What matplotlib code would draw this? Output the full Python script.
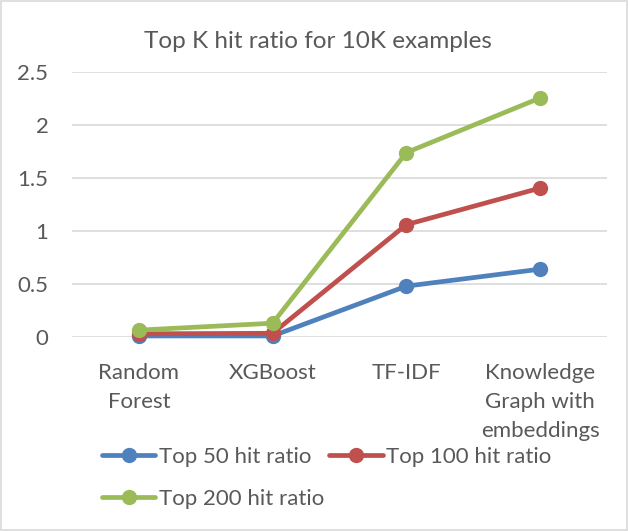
import matplotlib
matplotlib.use("Agg")
import matplotlib.pyplot as plt
from matplotlib.patches import Rectangle

categories = ["Random\nForest", "XGBoost", "TF-IDF", "Knowledge\nGraph with\nembeddings"]
top50 = [0.01, 0.01, 0.48, 0.64]
top100 = [0.03, 0.035, 1.06, 1.405]
top200 = [0.065, 0.13, 1.74, 2.255]
series_names = ["Top 50 hit ratio", "Top 100 hit ratio", "Top 200 hit ratio"]
colors = ["#4F81BD", "#C0504D", "#9BBB59"]
yticks = [0, 0.5, 1, 1.5, 2, 2.5]
ytick_labels = ["0", "0.5", "1", "1.5", "2", "2.5"]

plt.rcParams['font.family'] = ['Lato', 'DejaVu Sans']
text_color = "#595959"

fig = plt.figure(figsize=(6.28, 5.31), dpi=100)
fig.patches.append(Rectangle((0.002, 0.002), 0.996, 0.996, transform=fig.transFigure,
                             fill=False, edgecolor="#D9D9D9", linewidth=1.2))
ax = fig.add_axes([72/628, 1-337/531, 535/628, 265/531])

x = list(range(len(categories)))
lines = []
for vals, name, c in zip([top50, top100, top200], series_names, colors):
    l, = ax.plot(x, vals, color=c, linewidth=3.4, marker='o', markersize=10,
                 label=name, solid_capstyle='round', zorder=3, clip_on=False)
    lines.append(l)

ax.set_xlim(-0.5, len(categories) - 0.5)
ax.set_ylim(0, 2.5)
ax.set_yticks(yticks)
ax.set_yticklabels(ytick_labels)
ax.set_xticks(x)
ax.set_xticklabels(categories, linespacing=1.55)
ax.grid(axis='y', color="#D9D9D9", linewidth=1.2)
ax.set_axisbelow(True)
for s in ax.spines.values():
    s.set_visible(False)
ax.tick_params(axis='both', length=0, colors=text_color, labelsize=16)
ax.tick_params(axis='x', pad=19)
ax.tick_params(axis='y', pad=17)

fig.text(318/628, 1-42/531, "Top K hit ratio for 10K examples", ha='center', va='center',
         fontsize=17.5, color=text_color)

# order so that rows read: Top 50, Top 100 / Top 200
handles = [lines[0], lines[2], lines[1]]
leg = fig.legend(handles=handles, loc='upper left', bbox_to_anchor=(93/628, 1-438/531),
                 ncol=2, frameon=False, fontsize=16, labelcolor=text_color,
                 handlelength=2.4, handletextpad=0.15, columnspacing=0.25,
                 labelspacing=1.0, borderaxespad=0)

fig.savefig("out.png", dpi=100)
